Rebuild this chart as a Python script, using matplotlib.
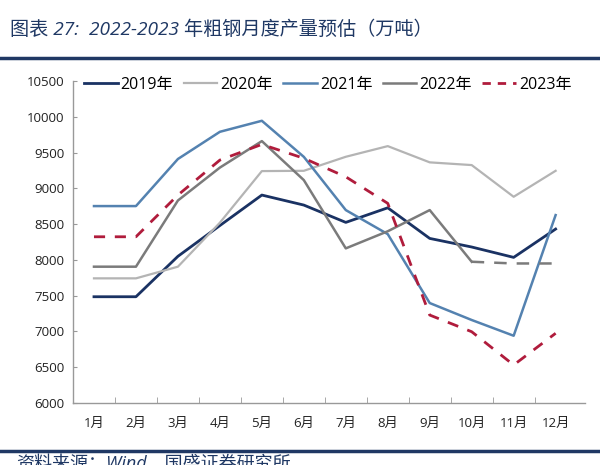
import matplotlib
matplotlib.use("Agg")
import matplotlib.pyplot as plt
from matplotlib.lines import Line2D

plt.rcParams['font.family'] = ['Open Sans', 'Noto Sans CJK SC', 'DejaVu Sans']

months = ['1月', '2月', '3月', '4月', '5月', '6月', '7月', '8月', '9月', '10月', '11月', '12月']
y2019 = [7485, 7485, 8050, 8480, 8906, 8766, 8524, 8728, 8300, 8180, 8035, 8431]
y2020 = [7742, 7742, 7905, 8520, 9241, 9245, 9441, 9590, 9363, 9325, 8882, 9245]
y2021 = [8752, 8752, 9410, 9790, 9944, 9440, 8696, 8360, 7397, 7160, 6940, 8626]
y2022 = [7905, 7905, 8830, 9290, 9660, 9115, 8161, 8400, 8696, 7974]
y2022_fc = [7974, 7950, 7950]
y2023 = [8323, 8323, 8906, 9395, 9614, 9420, 9161, 8790, 7229, 6996, 6531, 6974]
series_labels = ['2019年', '2020年', '2021年', '2022年', '2023年']
yticks = [6000, 6500, 7000, 7500, 8000, 8500, 9000, 9500, 10000, 10500]

c2019 = '#1a3263'
c2020 = '#b4b4b4'
c2021 = '#5482b0'
c2022 = '#7b7b7b'
c2023 = '#b01c3c'
navy = '#1f3864'

fig = plt.figure(figsize=(6, 4.65), dpi=100)
ax = fig.add_axes([73/600, 1-403/465, (585-73)/600, (403-81)/465])

x = list(range(1, 13))
ax.plot(x, y2019, color=c2019, lw=2.0)
ax.plot(x, y2020, color=c2020, lw=1.6)
ax.plot(x, y2021, color=c2021, lw=1.8)
ax.plot(x[:10], y2022, color=c2022, lw=1.8)
ax.plot(x[9:], y2022_fc, color=c2022, lw=1.8, ls=(0, (5, 4)))
ax.plot(x, y2023, color=c2023, lw=2.0, ls=(0, (4, 3.5)))

ax.set_xlim(0.5, 12.7)
ax.set_ylim(6000, 10500)
ax.set_yticks(yticks)
ax.set_yticklabels([str(v) for v in yticks], fontsize=9.5, color='#222222')
ax.set_xticks(x)
ax.set_xticklabels(months, fontsize=9.5, color='#222222')
ax.set_xticks([i + 0.5 for i in range(1, 12)], minor=True)
ax.tick_params(axis='x', which='major', length=0, pad=10)
ax.tick_params(axis='x', which='minor', direction='in', length=4, color='#999999')
ax.tick_params(axis='y', direction='in', length=3, color='#999999', pad=6)
for s in ['top', 'right']:
    ax.spines[s].set_visible(False)
for s in ['left', 'bottom']:
    ax.spines[s].set_color('#999999')
    ax.spines[s].set_linewidth(1.0)

handles = [
    Line2D([], [], color=c2019, lw=2.0),
    Line2D([], [], color=c2020, lw=1.6),
    Line2D([], [], color=c2021, lw=1.8),
    Line2D([], [], color=c2022, lw=1.8),
    Line2D([], [], color=c2023, lw=2.0, ls=(0, (3, 2.5))),
]
fig.legend(handles, series_labels, loc='center left', bbox_to_anchor=(84/600, 1-85/465),
           ncol=5, frameon=False, fontsize=11.5, handlelength=2.1, handletextpad=0.2,
           columnspacing=0.65, borderaxespad=0, borderpad=0)

fig.text(10/600, 1-30/465, '图表 27:  2022-2023 年粗钢月度产量预估（万吨）', fontsize=13.8,
         color=navy, style='italic', va='center', ha='left')
fig.add_artist(Line2D([0, 1], [1-58/465, 1-58/465], color=navy, lw=2.5, transform=fig.transFigure))
fig.add_artist(Line2D([0, 1], [1-451/465, 1-451/465], color=navy, lw=2.5, transform=fig.transFigure))
fig.text(16/600, 1-464/465, '资料来源：Wind，国盛证券研究所', fontsize=13,
         color=navy, style='italic', va='center', ha='left')

fig.savefig('out.png', dpi=100)
